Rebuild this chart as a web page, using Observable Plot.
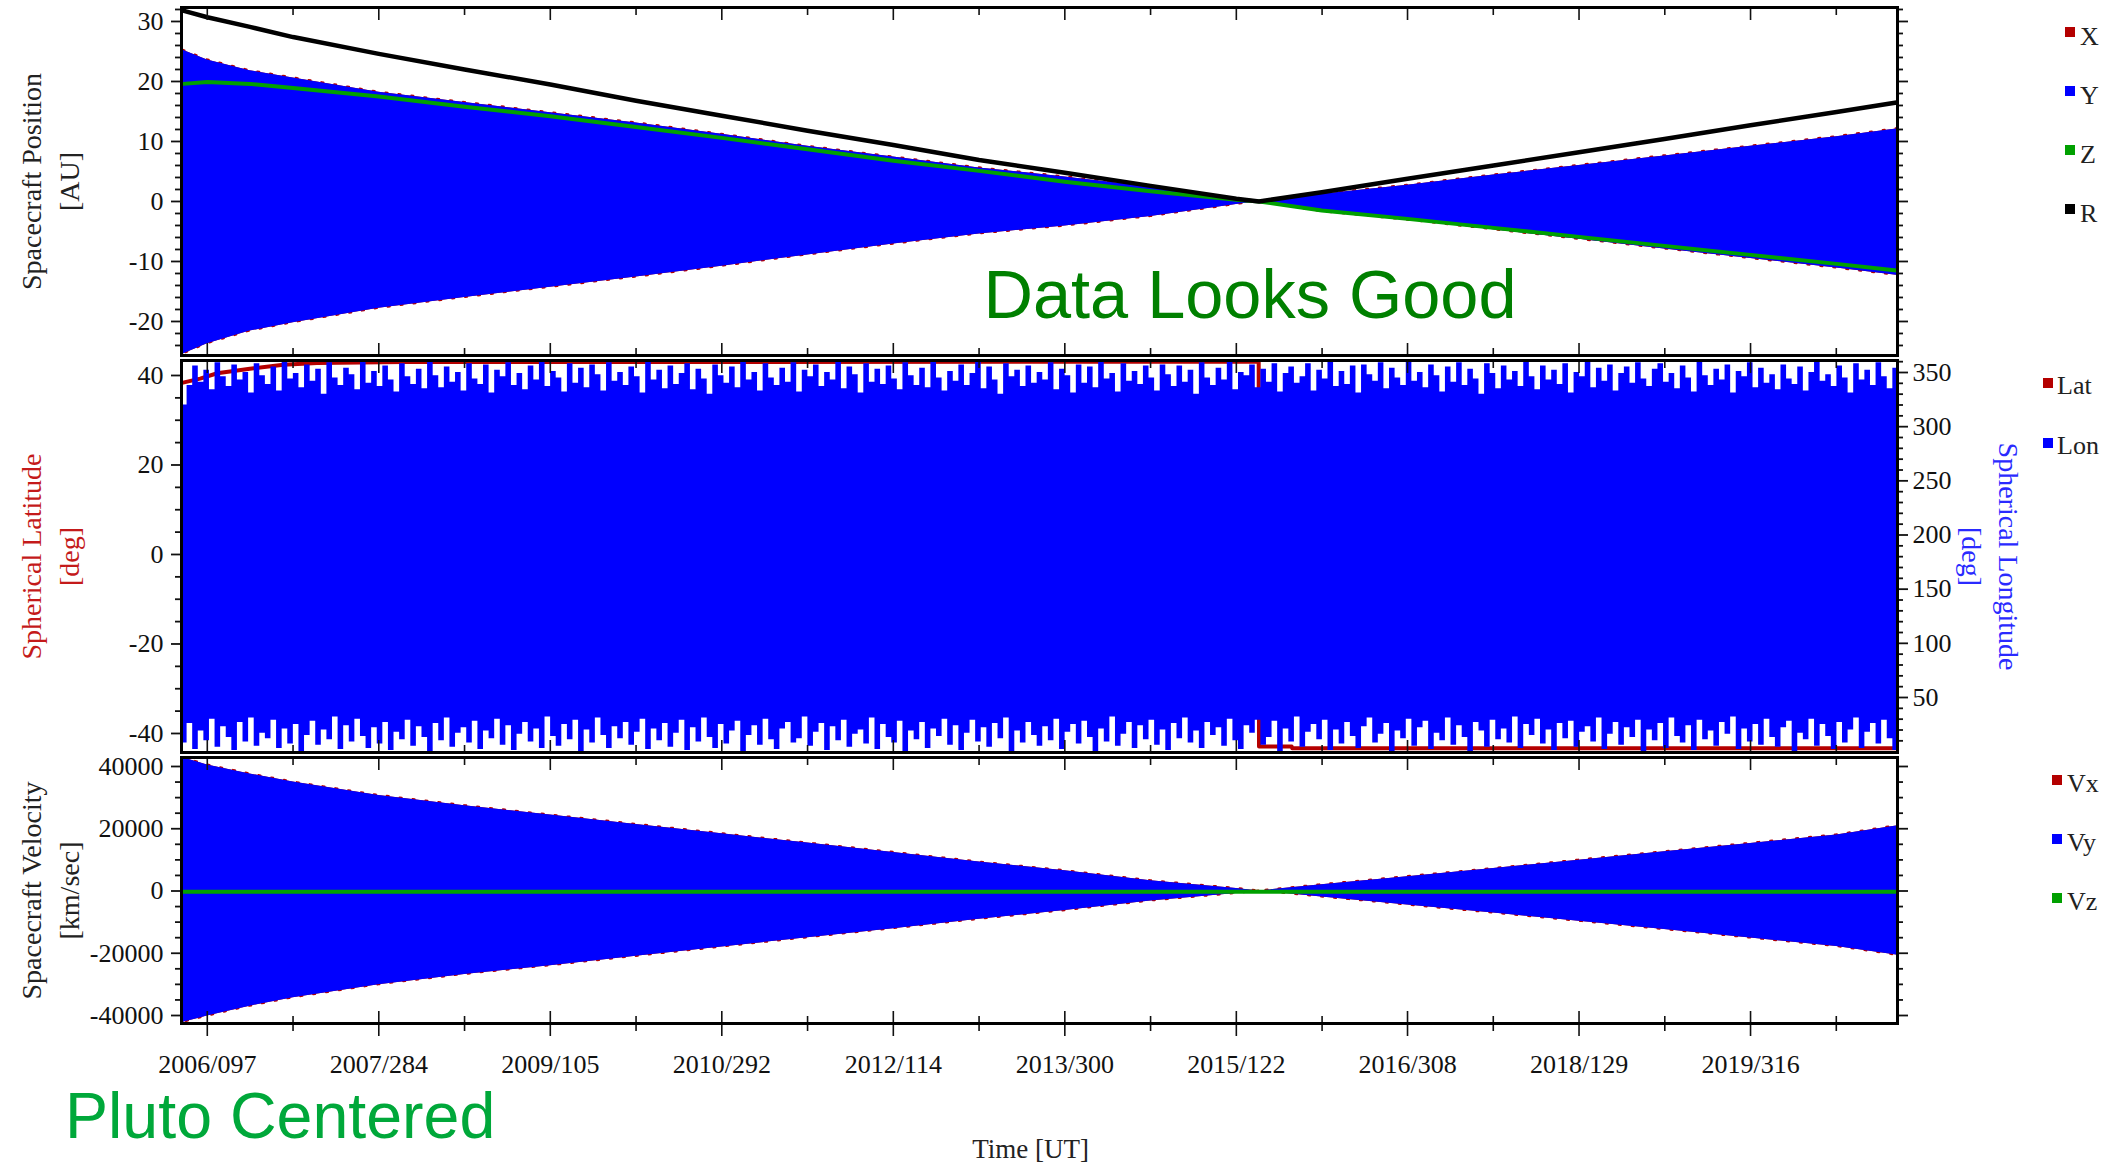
<!DOCTYPE html>
<html><head><meta charset="utf-8">
<script src="https://cdn.jsdelivr.net/npm/d3@7"></script>
<script src="https://cdn.jsdelivr.net/npm/@observablehq/plot@0.6"></script>
<style>
html,body{margin:0;padding:0;background:#fff;}
#wrap{position:relative;width:2105px;height:1165px;overflow:hidden;background:#fff;}
#wrap svg{position:absolute;left:0;max-width:none;}
</style></head><body><div id="wrap"></div>
<script>
// ---------------- DATA ----------------
const tickLabels = ["2006/097","2007/284","2009/105","2010/292","2012/114","2013/300","2015/122","2016/308","2018/129","2019/316"];

// Panel 1 & 3 sample dates
const p1Dates = ["2006-01-19","2006-04-07","2006-08-22","2007-01-08","2007-10-11","2008-07-13","2009-04-15","2010-01-16","2010-10-19","2011-07-22","2012-04-23","2013-01-24","2013-10-27","2014-07-30","2015-05-02","2015-07-14","2016-02-01","2016-11-03","2017-08-07","2018-05-09","2019-02-08","2019-11-12","2020-08-15","2021-02-24"];
// Spacecraft position [AU]
const rAU     = [31.8,30.7,29.1,27.4,24.6,22.0,19.5,16.8,14.3,11.8,9.4,6.9,4.8,2.6,0.45,0.0,1.55,3.8,6.0,8.2,10.4,12.7,14.9,16.5];
const zAU     = [19.6,19.9,19.6,18.9,17.5,15.8,14.2,12.4,10.6,8.7,6.8,5.1,3.3,1.7,0.3,0.0,-1.5,-2.9,-4.4,-5.9,-7.4,-8.9,-10.4,-11.5];
const xyTopAU = [25.2,23.6,21.8,20.6,18.2,16.5,14.8,13.1,11.2,9.2,7.4,5.6,4.1,2.4,0.4,0.0,1.2,2.7,4.4,6.0,7.6,9.2,10.8,12.1];
const xyBotAU = [-25.4,-23.7,-21.6,-20.2,-17.8,-16.0,-14.3,-12.6,-10.8,-8.9,-7.1,-5.4,-4.1,-2.5,-0.5,0.0,-1.7,-3.1,-4.7,-6.3,-7.9,-9.5,-11.1,-12.3];
// Spacecraft velocity [km/sec]
const vTop = [42800,40500,37600,35000,30700,27400,24400,21400,18400,15400,12400,9300,6500,3300,800,0,2000,4600,7200,9900,12600,15300,18000,20900];
const vBot = [-42200,-40200,-37000,-34300,-30100,-26800,-24000,-21000,-18000,-15000,-12100,-9100,-6300,-3200,-800,0,-1900,-4500,-7100,-9700,-12400,-15100,-17800,-20600];
const vzKms = [-250,-250,-250,-250,-250,-250,-250,-250,-250,-250,-250,-250,-250,-250,-250,-250,-250,-250,-250,-250,-250,-250,-250,-250];

// Spherical latitude [deg]
const latDates = ["2006-01-19","2006-03-15","2006-05-09","2006-08-22","2006-12-08","2007-03-26","2008-01-01","2015-07-13","2015-07-14","2015-10-27","2015-10-29","2021-02-24"];
const latDeg   = [38.4,39.3,40.5,41.5,42.4,42.8,43.0,43.1,-42.9,-42.9,-43.3,-43.3];

// Spherical longitude [deg]: per-sample max / min (sample grid every 18 days)
const lonStart = "2006-01-14";
const lonStepDays = 18;
const lonTop = [
320,338,356,341,352,334,359,346,337,357,343,350,331,358,347,339,355,333,360,344,349,336,
357,342,353,330,359,345,338,354,348,334,361,340,351,337,356,343,332,358,346,339,353,335,
360,347,336,355,341,350,333,358,344,339,357,331,352,346,359,338,349,334,356,343,360,337,
351,345,332,358,340,354,336,357,348,333,359,342,350,338,355,346,331,360,343,352,335,356,
339,349,358,334,353,344,330,357,347,340,355,336,361,343,350,333,358,345,338,354,341,359,
332,352,346,357,337,350,343,360,335,355,348,331,358,341,353,339,356,344,334,359,347,338,
354,336,360,345,333,351,342,357,338,349,361,335,355,343,330,358,346,352,337,356,340,350,
343,359,334,353,347,331,357,340,355,336,360,344,349,332,358,342,351,339,356,345,333,357,
348,337,356,341,352,330,359,345,338,354,343,360,334,350,347,357,336,353,341,358,332,349,
355,340,346,358,333,352,344,360,337,351,339,356,331,357,348,342,359,335,354,345,338,361,
342,350,336,357,347,332,355,341,359,338,353,344,330,358,349,335,356,343,351,337,360,346,
334,356,343,352,339,358,331,350,346,360,336,354,342,357,333,349,355,340,359,344,337,353,
358,341,349,335,356,345,332,360,347,338,353,343,357,331,351,346,359,336,354,340,348,334,
357,344,339,355,333,350,360,342,348,337,356,345,331,358,343,352,338,359,346,335,354,341];
const lonBot = [
8,26,2,19,10,30,4,23,13,1,27,9,31,5,17,12,29,3,21,7,25,0,
15,28,6,20,11,32,2,24,9,30,14,3,22,7,27,1,18,11,29,5,23,13,
0,26,10,31,4,17,22,8,28,2,19,12,30,6,24,1,16,27,9,21,3,32,
14,5,25,11,29,0,20,8,31,15,3,23,12,27,6,18,30,2,21,10,26,4,
17,29,1,22,9,31,13,3,25,7,19,28,0,15,24,6,30,11,2,21,27,8,
12,32,5,18,26,1,23,10,29,4,16,20,7,31,2,25,13,8,28,0,19,11,
27,3,21,14,30,6,24,1,17,29,9,22,4,26,12,31,0,19,8,27,15,5,
23,10,30,2,18,25,7,28,13,0,21,9,32,5,16,27,3,24,11,29,6,20,
1,26,12,31,8,19,3,27,15,22,5,30,10,2,24,17,29,6,13,28,0,21,
9,32,4,18,25,11,29,1,20,7,27,14,3,23,31,8,16,26,0,19,12,30,
5,22,28,2,17,10,31,6,24,13,0,27,19,4,29,11,21,8,32,3,25,15,
30,7,20,1,26,12,28,4,18,23,9,31,2,16,27,6,22,13,29,0,20,10,
26,3,31,14,8,24,1,29,11,19,5,27,16,32,2,21,9,25,6,30,13,4,
22,28,0,17,11,30,5,25,14,2,27,8,20,31,3,18,26,7,29,12,1,23];

// Axis ticks
const posMajor = [-20,-10,0,10,20,30];
const latMajor = [-40,-20,0,20,40];
const lonMajor = [50,100,150,200,250,300,350];
const velMajor = [-40000,-20000,0,20000,40000];

// ---------------- BUILD ----------------
const RED = "#b40000", BLUE = "#0000ff", GREEN = "#00a000", INK = "#111";
const parseDate = d3.utcParse("%Y-%m-%d");
const parseDoy = d3.utcParse("%Y/%j");
const fmtDoy = d3.utcFormat("%Y/%j");
const xDomain = [parseDate("2006-01-14"), parseDate("2021-02-27")];
const majorX = tickLabels.map(parseDoy);
const minorX = majorX.map(d => d3.utcDay.offset(d, 276)).filter(d => d < xDomain[1]);

const p1 = p1Dates.map((d, i) => ({date: parseDate(d), r: rAU[i], z: zAU[i], hi: xyTopAU[i], lo: xyBotAU[i], vhi: vTop[i], vlo: vBot[i], vz: vzKms[i]}));
const latData = latDates.map((d, i) => ({date: parseDate(d), lat: latDeg[i]}));
const lon0 = parseDate(lonStart);
const nLon = Math.min(lonTop.length, lonBot.length);
const lonData = d3.range(nLon).map(i => ({date: d3.utcDay.offset(lon0, i * lonStepDays), hi: lonTop[i], lo: lonBot[i]}));

const posDomain = [-25.67, 32.33];
const latDomain = [-44.25, 43.35];
const lonDomain = [-0.77, 361.08];
const velDomain = [-42570, 42890];
const lonToLat = d3.scaleLinear().domain(lonDomain).range(latDomain);

const FONT = "'Liberation Serif', 'Times New Roman', serif";
const common = {
  width: 2105, marginLeft: 181, marginRight: 208,
  x: {type: "utc", domain: xDomain},
  style: {fontFamily: FONT, fontSize: "26px", color: INK, background: "transparent", overflow: "visible"}
};
const noText = () => "";

function xInside() {
  return ["top", "bottom"].flatMap(anchor => [
    Plot.axisX({anchor, ticks: majorX, tickSize: -12, tickFormat: noText, label: null, strokeWidth: 1.6}),
    Plot.axisX({anchor, ticks: minorX, tickSize: -7, tickFormat: noText, label: null, strokeWidth: 1.6})
  ]);
}
function yAxesLeft(major, minor) {
  return [
    Plot.axisY({anchor: "left", ticks: major, tickSize: 10, tickPadding: 8, tickFormat: d => String(d), label: null, strokeWidth: 1.8}),
    Plot.axisY({anchor: "left", ticks: minor, tickSize: 6, tickFormat: noText, label: null, strokeWidth: 1.8})
  ];
}
function yAxesRightPlain(major, minor) {
  return [
    Plot.axisY({anchor: "right", ticks: major, tickSize: 10, tickFormat: noText, label: null, strokeWidth: 1.8}),
    Plot.axisY({anchor: "right", ticks: minor, tickSize: 5, tickFormat: noText, label: null, strokeWidth: 1.8})
  ];
}
function yLabel(text, fill) {
  return Plot.text([text], {text: d => d, frameAnchor: "left", dx: -134, rotate: -90, fontSize: 28, lineHeight: 1.375, fill, textAnchor: "middle", lineAnchor: "middle"});
}

const wrap = document.getElementById("wrap");

// ---- Panel 1: position ----
const posMinor = d3.range(-24, 33, 2).filter(v => !posMajor.includes(v));
const svg1 = Plot.plot({
  ...common, height: 358, marginTop: 7, marginBottom: 3,
  y: {domain: posDomain},
  marks: [
    Plot.areaY(p1, {x: "date", y1: "lo", y2: "hi", fill: RED, stroke: RED, strokeWidth: 2.2, strokeDasharray: "2,11", clip: true}),
    Plot.areaY(p1, {x: "date", y1: "lo", y2: "hi", fill: BLUE, clip: true}),
    Plot.line(p1, {x: "date", y: "z", stroke: GREEN, strokeWidth: 4, clip: true}),
    Plot.line(p1, {x: "date", y: "r", stroke: "#000", strokeWidth: 4.5, clip: true}),
    ...xInside(),
    ...yAxesLeft(posMajor, posMinor),
    ...yAxesRightPlain(posMajor, posMinor),
    yLabel("Spacecraft Position\n[AU]", "#222"),
    Plot.frame({stroke: "#000", strokeWidth: 3})
  ]
});
svg1.style.top = "0px";
wrap.appendChild(svg1);

// ---- Panel 2: spherical lat / lon ----
const latMinor = d3.range(-40, 41, 5).filter(v => !latMajor.includes(v));
const lonMinor = d3.range(10, 361, 10).filter(v => !lonMajor.includes(v));
const svg2 = Plot.plot({
  ...common, height: 397, marginTop: 2, marginBottom: 3,
  y: {domain: latDomain},
  marks: [
    Plot.line(latData, {x: "date", y: "lat", stroke: RED, strokeWidth: 4, clip: true}),
    Plot.areaY(lonData, {x: "date", y1: d => lonToLat(d.lo), y2: d => lonToLat(d.hi), fill: BLUE, curve: "step-after", clip: true}),
    ...xInside(),
    ...yAxesLeft(latMajor, latMinor),
    Plot.axisY({anchor: "right", ticks: lonMajor.map(lonToLat), tickSize: 10, tickPadding: 5, tickFormat: d => String(Math.round(lonToLat.invert(d))), label: null, strokeWidth: 1.8}),
    Plot.axisY({anchor: "right", ticks: lonMinor.map(lonToLat), tickSize: 5, tickFormat: noText, label: null, strokeWidth: 1.8}),
    yLabel("Spherical Latitude\n[deg]", "#c41a1a"),
    Plot.text(["Spherical Longitude\n[deg]"], {text: d => d, frameAnchor: "right", dx: 95, rotate: 90, fontSize: 28, lineHeight: 1.35, fill: "#2a2aff", textAnchor: "middle", lineAnchor: "middle"}),
    Plot.frame({stroke: "#000", strokeWidth: 3})
  ]
});
svg2.style.top = "358px";
wrap.appendChild(svg2);

// ---- Panel 3: velocity ----
const velMinor = d3.range(-40000, 40001, 5000).filter(v => !velMajor.includes(v));
const svg3 = Plot.plot({
  ...common, height: 410, marginTop: 2, marginBottom: 142,
  y: {domain: velDomain},
  marks: [
    Plot.areaY(p1, {x: "date", y1: "vlo", y2: "vhi", fill: RED, stroke: RED, strokeWidth: 2.2, strokeDasharray: "2,11", clip: true}),
    Plot.areaY(p1, {x: "date", y1: "vlo", y2: "vhi", fill: BLUE, clip: true}),
    Plot.line(p1, {x: "date", y: "vz", stroke: GREEN, strokeWidth: 4, clip: true}),
    ...xInside(),
    Plot.axisX({anchor: "bottom", ticks: majorX, tickSize: 13, tickPadding: 18, tickFormat: fmtDoy, label: null, strokeWidth: 1.6}),
    Plot.axisX({anchor: "bottom", ticks: minorX, tickSize: 8, tickFormat: noText, label: null, strokeWidth: 1.6}),
    ...yAxesLeft(velMajor, velMinor),
    ...yAxesRightPlain(velMajor, velMinor),
    yLabel("Spacecraft Velocity\n[km/sec]", "#222"),
    Plot.text(["Time [UT]"], {text: d => d, frameAnchor: "bottom", dx: -9, dy: 115, fontSize: 27, fill: "#222", textAnchor: "middle", lineAnchor: "top"}),
    Plot.frame({stroke: "#000", strokeWidth: 3})
  ]
});
svg3.style.top = "755px";
wrap.appendChild(svg3);

// ---- Legends and annotations ----
const ov = d3.select(wrap).append("svg")
  .attr("width", 2105).attr("height", 1165)
  .style("top", "0px").style("pointer-events", "none");

function legend(items, sqX, sq, textX, lift) {
  const g = ov.append("g").attr("font-family", FONT).attr("font-size", 26).attr("fill", "#222");
  items.forEach(it => {
    g.append("rect").attr("x", sqX).attr("y", it.base - lift).attr("width", sq).attr("height", sq).attr("fill", it.color);
    g.append("text").attr("x", textX).attr("y", it.base).text(it.key);
  });
}
legend([{key: "X", color: RED, base: 45}, {key: "Y", color: BLUE, base: 104}, {key: "Z", color: GREEN, base: 163}, {key: "R", color: "#000", base: 222}], 2065, 10, 2080, 18);
legend([{key: "Lat", color: RED, base: 394}, {key: "Lon", color: BLUE, base: 454}], 2043, 10, 2057, 16);
legend([{key: "Vx", color: RED, base: 792}, {key: "Vy", color: BLUE, base: 851}, {key: "Vz", color: GREEN, base: 910}], 2052, 10, 2067, 17);

ov.append("text").attr("x", 1250).attr("y", 318).attr("text-anchor", "middle")
  .attr("font-family", "'Liberation Sans', Arial, sans-serif").attr("font-size", 68.5).attr("fill", "#008000")
  .text("Data Looks Good");
ov.append("text").attr("x", 65).attr("y", 1138)
  .attr("font-family", "'Liberation Sans', Arial, sans-serif").attr("font-size", 64.5).attr("fill", "#00a83a")
  .text("Pluto Centered");
</script>
</body></html>
